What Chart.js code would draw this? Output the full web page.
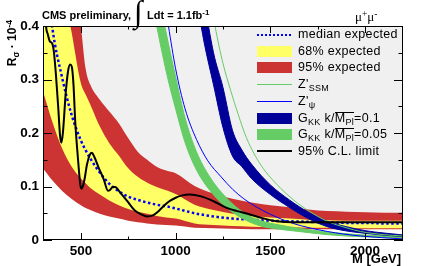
<!DOCTYPE html>
<html>
<head>
<meta charset="utf-8">
<script src="https://cdn.jsdelivr.net/npm/chart.js@4.4.1/dist/chart.umd.min.js"></script>
<style>
  html, body { margin: 0; padding: 0; background: #fff; }
  #wrap { position: relative; width: 425px; height: 266px; overflow: hidden; font-family: "Liberation Sans", Arial, sans-serif; }
  #wrap canvas { position: absolute; left: 0; top: 0; }
  .t { position: absolute; white-space: nowrap; color: #000; }
  .title { font-weight: bold; font-size: 11px; line-height: 14px; }
  .leg { left: 298px; font-size: 12.5px; letter-spacing: 0.3px; line-height: 14px; height: 14px; }
  .sw { position: absolute; left: 257px; width: 35px; }
  .box { height: 11px; }
  .ln { height: 1px; }
  sub, sup { line-height: 0; font-size: 0.72em; }
  sub { vertical-align: -0.3em; }
  sup { vertical-align: 0.45em; }
  .ovl { display: inline-block; border-top: 1px solid #000; line-height: 11px; padding-top: 0; }
</style>
</head>
<body>
<div id="wrap">
  <canvas id="chart" width="425" height="266"></canvas>

  <div class="t title" style="left:42px; top:8px;">CMS preliminary,</div>
  <div class="t" style="left:134px; top:-5px; font-family:'Liberation Serif', serif; font-size:31px; line-height:34px;">&#8747;</div>
  <div class="t title" style="left:147px; top:8px;">Ldt = 1.1fb<sup>-1</sup></div>
  <div class="t" style="left:355px; top:10px; font-family:'Liberation Serif', serif; font-size:13px; line-height:14px;">&mu;<sup>+</sup>&mu;<sup>-</sup></div>

  <div class="t" style="left:5px; top:82px; width:62px; text-align:right; font-weight:bold; font-size:12px; line-height:15px; transform:rotate(-90deg); transform-origin:left top;">R<sub>&sigma;</sub> &middot; 10<sup>-4</sup></div>
  <div class="t" style="left:352px; top:252px; font-weight:bold; font-size:13px; line-height:14px;">M [GeV]</div>

  <!-- legend -->
  <div class="sw ln" style="top:34px; height:2px; background:repeating-linear-gradient(90deg,#0000ff 0 2px,transparent 2px 4px);"></div>
  <div class="t leg" style="top:27px;">median expected</div>
  <div class="sw box" style="top:46px; background:#ffff66;"></div>
  <div class="t leg" style="top:44px;">68% expected</div>
  <div class="sw box" style="top:62px; background:#cc3333;"></div>
  <div class="t leg" style="top:60px;">95% expected</div>
  <div class="sw ln" style="top:84px; background:#66cc66;"></div>
  <div class="t leg" style="top:77px;">Z'<sub>SSM</sub></div>
  <div class="sw ln" style="top:101px; background:#0000ff;"></div>
  <div class="t leg" style="top:94px;">Z'<sub>&psi;</sub></div>
  <div class="sw box" style="top:113px; background:#000099;"></div>
  <div class="t leg" style="top:111px;">G<sub>KK</sub> k/<span class="ovl">M<sub>Pl</sub></span>=0.1</div>
  <div class="sw box" style="top:129px; background:#66cc66;"></div>
  <div class="t leg" style="top:127px;">G<sub>KK</sub> k/<span class="ovl">M<sub>Pl</sub></span>=0.05</div>
  <div class="sw ln" style="top:150px; height:2px; background:#000;"></div>
  <div class="t leg" style="top:144px;">95% C.L. limit</div>
</div>

<script>
// mass points (GeV) for expected limit and bands
var massLimit = [300, 350, 400, 450, 500, 525, 550, 600, 650, 700, 750, 800, 850, 900, 950, 1000, 1100, 1200, 1300, 1400, 1500, 1600, 1700, 1800, 1900, 2000, 2100, 2200];
var median = [0.56, 0.395, 0.305, 0.235, 0.186, 0.168, 0.152, 0.126, 0.105, 0.091, 0.081, 0.075, 0.070, 0.066, 0.063, 0.059, 0.050, 0.044, 0.040, 0.038, 0.036, 0.035, 0.034, 0.033, 0.032, 0.032, 0.031, 0.031];
var band68Up = [0.75, 0.60, 0.48, 0.39, 0.293, 0.272, 0.253, 0.212, 0.181, 0.158, 0.134, 0.118, 0.107, 0.099, 0.093, 0.086, 0.066, 0.056, 0.049, 0.045, 0.042, 0.040, 0.038, 0.037, 0.036, 0.036, 0.036, 0.036];
var band68Down = [0.278, 0.22, 0.172, 0.138, 0.115, 0.106, 0.097, 0.085, 0.074, 0.065, 0.058, 0.053, 0.049, 0.045, 0.042, 0.040, 0.031, 0.028, 0.026, 0.025, 0.024, 0.024, 0.023, 0.023, 0.022, 0.022, 0.022, 0.022];
var band95Up = [1.0, 0.85, 0.70, 0.55, 0.40, 0.32, 0.29, 0.262, 0.24, 0.218, 0.19, 0.165, 0.150, 0.137, 0.130, 0.125, 0.101, 0.087, 0.077, 0.070, 0.065, 0.061, 0.057, 0.054, 0.053, 0.052, 0.051, 0.051];
var band95Down = [0.134, 0.111, 0.092, 0.077, 0.065, 0.060, 0.056, 0.049, 0.044, 0.040, 0.036, 0.033, 0.031, 0.029, 0.028, 0.027, 0.023, 0.022, 0.021, 0.020, 0.020, 0.020, 0.020, 0.020, 0.020, 0.020, 0.020, 0.020];

// observed 95% CL limit
var massObs = [300, 316, 325, 335, 350, 358, 368, 380, 390, 397, 405, 420, 432, 443, 452, 461, 470, 480, 490, 497, 503, 510, 520, 532, 548, 558, 570, 595, 620, 643, 652, 668, 680, 711, 746, 782, 818, 850, 880, 907, 934, 961, 1000, 1030, 1075, 1130, 1200, 1270, 1325, 1380, 1447, 1535, 1623, 1800, 2000, 2200];
var observed = [0.52, 0.40, 0.385, 0.372, 0.366, 0.35, 0.31, 0.25, 0.195, 0.182, 0.2, 0.275, 0.315, 0.328, 0.324, 0.29, 0.222, 0.172, 0.128, 0.103, 0.096, 0.1, 0.115, 0.141, 0.16, 0.163, 0.156, 0.134, 0.114, 0.092, 0.093, 0.099, 0.099, 0.087, 0.072, 0.056, 0.048, 0.044, 0.046, 0.053, 0.0625, 0.071, 0.079, 0.083, 0.085, 0.082, 0.0725, 0.06, 0.054, 0.049, 0.042, 0.035, 0.033, 0.033, 0.033, 0.033];

// theory curves
var massZssm = [1190, 1208, 1250, 1290, 1330, 1375, 1450, 1534, 1622, 1700, 1800, 1900, 1975, 2100, 2200];
var zSsm = [0.44, 0.40, 0.33, 0.28, 0.235, 0.19, 0.14, 0.104, 0.075, 0.055, 0.035, 0.023, 0.016, 0.010, 0.0075];
var massZpsi = [940, 962, 1000, 1050, 1110, 1170, 1240, 1300, 1360, 1430, 1500, 1620, 1800, 1975, 2200];
var zPsi = [0.45, 0.40, 0.32, 0.245, 0.188, 0.148, 0.118, 0.095, 0.077, 0.061, 0.048, 0.031, 0.016, 0.0075, 0.002];
var massG01 = [1120, 1150, 1200, 1250, 1300, 1350, 1400, 1500, 1600, 1700, 1800, 1900, 2000, 2100, 2200];
var g01Up = [0.52, 0.45, 0.35, 0.285, 0.205, 0.168, 0.142, 0.103, 0.075, 0.052, 0.035, 0.025, 0.0175, 0.013, 0.0095];
var g01Down = [0.43, 0.37, 0.29, 0.21, 0.157, 0.137, 0.115, 0.085, 0.061, 0.040, 0.025, 0.017, 0.0125, 0.009, 0.0065];
var massG005 = [900, 920, 960, 1000, 1050, 1110, 1180, 1270, 1360, 1450, 1550, 1650, 1800, 1975, 2200];
var g005Up = [0.48, 0.44, 0.37, 0.305, 0.228, 0.165, 0.118, 0.078, 0.051, 0.036, 0.028, 0.022, 0.015, 0.0098, 0.0065];
var g005Down = [0.40, 0.365, 0.30, 0.245, 0.182, 0.131, 0.093, 0.060, 0.039, 0.026, 0.020, 0.016, 0.010, 0.0062, 0.0035];

// labelled ticks
var xTickLabels = [500, 1000, 1500, 2000];
var yTickLabels = [0, 0.1, 0.2, 0.3, 0.4];

function pts(xs, ys) {
  return xs.map(function(x, i) { return { x: x, y: ys[i] }; });
}

function curve(data, opts) {
  var ds = {
    data: data,
    pointRadius: 0,
    borderWidth: 0,
    fill: false,
    clip: 0,
    cubicInterpolationMode: 'monotone'
  };
  for (var k in opts) ds[k] = opts[k];
  return ds;
}

// ROOT style frame with inward ticks on all four sides
var frameTicks = {
  id: 'frameTicks',
  afterDatasetsDraw: function(chart) {
    var ctx = chart.ctx, a = chart.chartArea;
    var xs = chart.scales.x, ys = chart.scales.y;
    ctx.save();
    ctx.strokeStyle = '#000';
    ctx.lineWidth = 1;
    ctx.beginPath();
    xs.ticks.forEach(function(t) {
      var px = Math.round(xs.getPixelForValue(t.value)) + 0.5;
      var len = t.label ? 7 : 3.5;
      ctx.moveTo(px, a.bottom); ctx.lineTo(px, a.bottom - len);
      ctx.moveTo(px, a.top); ctx.lineTo(px, a.top + len);
    });
    ys.ticks.forEach(function(t) {
      var py = Math.round(ys.getPixelForValue(t.value)) + 0.5;
      var len = t.label ? 9 : 4.5;
      ctx.moveTo(a.left, py); ctx.lineTo(a.left + len, py);
      ctx.moveTo(a.right, py); ctx.lineTo(a.right - len, py);
    });
    ctx.stroke();
    ctx.strokeRect(a.left + 0.5, a.top + 0.5, a.right - a.left - 1, a.bottom - a.top - 1);
    ctx.restore();
  }
};

Chart.defaults.font.family = '"Liberation Sans", Arial, sans-serif';

new Chart(document.getElementById('chart'), {
  type: 'line',
  data: {
    datasets: [
      // 0: excluded region above observed limit
      curve(pts(massObs, observed), { fill: 'end', backgroundColor: '#f0f0f0', order: 20 }),
      // 1-2: 95% band
      curve(pts(massLimit, band95Up), { fill: 2, backgroundColor: '#cc3333', order: 19 }),
      curve(pts(massLimit, band95Down), { order: 19 }),
      // 3-4: 68% band
      curve(pts(massLimit, band68Up), { fill: 4, backgroundColor: '#ffff66', order: 18 }),
      curve(pts(massLimit, band68Down), { order: 18 }),
      // 5: median expected
      curve(pts(massLimit, median), { borderColor: '#0000ff', borderWidth: 2.5, borderDash: [2.5, 2.5], order: 17 }),
      // 6-7: G_KK k/M = 0.05
      curve(pts(massG005, g005Up), { fill: 7, backgroundColor: '#66cc66', borderColor: '#66cc66', borderWidth: 1, order: 16 }),
      curve(pts(massG005, g005Down), { borderColor: '#66cc66', borderWidth: 1, order: 16 }),
      // 8-9: G_KK k/M = 0.1
      curve(pts(massG01, g01Up), { fill: 9, backgroundColor: '#000099', borderColor: '#000099', borderWidth: 1, order: 15 }),
      curve(pts(massG01, g01Down), { borderColor: '#000099', borderWidth: 1, order: 15 }),
      // 10: Z'psi
      curve(pts(massZpsi, zPsi), { borderColor: '#0000ff', borderWidth: 1, order: 14 }),
      // 11: Z'SSM
      curve(pts(massZssm, zSsm), { borderColor: '#66cc66', borderWidth: 1, order: 14 }),
      // 12: observed limit
      curve(pts(massObs, observed), { borderColor: '#000', borderWidth: 2, order: 1 })
    ]
  },
  options: {
    responsive: false,
    animation: false,
    devicePixelRatio: 1,
    layout: { padding: { top: 26, right: 22, left: 0, bottom: 0 } },
    plugins: {
      legend: { display: false },
      tooltip: { enabled: false },
      filler: { propagate: false }
    },
    scales: {
      x: {
        type: 'linear',
        min: 300,
        max: 2200,
        afterFit: function(s) { s.height = 26; },
        grid: { display: false, drawTicks: false },
        border: { display: false },
        ticks: {
          stepSize: 250,
          includeBounds: false,
          autoSkip: false,
          maxRotation: 0,
          padding: 3,
          color: '#000',
          font: { size: 13.5, weight: 'bold' },
          callback: function(v) { return xTickLabels.indexOf(v) >= 0 ? String(v) : ''; }
        }
      },
      y: {
        min: 0,
        max: 0.4,
        afterFit: function(s) { s.width = 43; },
        grid: { display: false, drawTicks: false },
        border: { display: false },
        ticks: {
          stepSize: 0.05,
          autoSkip: false,
          padding: 4,
          color: '#000',
          font: { size: 13.5, weight: 'bold' },
          callback: function(v) {
            for (var i = 0; i < yTickLabels.length; i++) {
              if (Math.abs(v - yTickLabels[i]) < 1e-6) return String(yTickLabels[i]);
            }
            return '';
          }
        }
      }
    }
  },
  plugins: [frameTicks]
});
</script>
</body>
</html>
